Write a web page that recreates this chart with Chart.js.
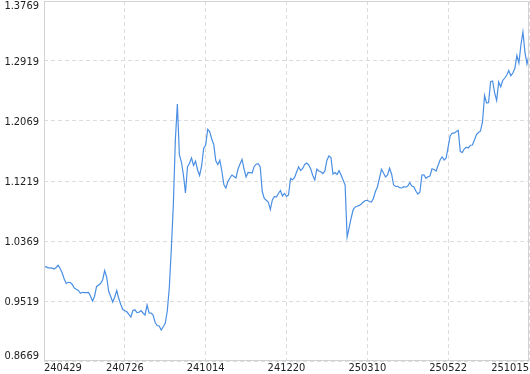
<!DOCTYPE html>
<html>
<head>
<meta charset="utf-8">
<script src="https://cdn.jsdelivr.net/npm/chart.js@4"></script>
<style>
  html, body { margin: 0; padding: 0; background: #fff; }
  #wrap { width: 530px; height: 374px; position: relative; }
</style>
</head>
<body>
<div id="wrap"><canvas id="c" width="530" height="374"></canvas></div>
<script>
// Tick labels on the x axis (every 40th sample)
const xTickLabels = ['240429', '240726', '241014', '241220', '250310', '250522', '251015'];
const xTickEvery = 40;
// Y-axis tick values
const yTicks = [0.8669, 0.9519, 1.0369, 1.1219, 1.2069, 1.2919, 1.3769];
// Series values
const values = [
  0.9996, 1.0005, 0.9989, 0.9988, 0.9984, 0.9972, 0.9994, 1.0025, 0.9979, 0.9916,
  0.9831, 0.9767, 0.9784, 0.9781, 0.9753, 0.9703, 0.9685, 0.9668, 0.9628, 0.9642,
  0.9637, 0.9639, 0.9641, 0.9590, 0.9519, 0.9583, 0.9722, 0.9746, 0.9767, 0.9817,
  0.9951, 0.9859, 0.9656, 0.9583, 0.9505, 0.9576, 0.9668, 0.9554, 0.9469, 0.9399,
  0.9382, 0.9366, 0.9328, 0.9292, 0.9384, 0.9394, 0.9356, 0.9360, 0.9384, 0.9349,
  0.9321, 0.9462, 0.9349, 0.9347, 0.9321, 0.9214, 0.9172, 0.9165, 0.9108, 0.9155,
  0.9203, 0.9377, 0.9703, 1.0256, 1.0879, 1.1800, 1.2310, 1.1587, 1.1488, 1.1304,
  1.1049, 1.1417, 1.1470, 1.1545, 1.1439, 1.1502, 1.1375, 1.1297, 1.1432, 1.1679,
  1.1729, 1.1949, 1.1918, 1.1814, 1.1736, 1.1510, 1.1450, 1.1512, 1.1361, 1.1170,
  1.1120, 1.1212, 1.1262, 1.1304, 1.1283, 1.1262, 1.1389, 1.1460, 1.1524, 1.1389,
  1.1276, 1.1340, 1.1338, 1.1332, 1.1425, 1.1456, 1.1464, 1.1417, 1.1070, 1.0971,
  1.0947, 1.0922, 1.0815, 1.0950, 1.1000, 1.0992, 1.1042, 1.1085, 1.1007, 1.1042,
  1.1002, 1.1021, 1.1255, 1.1236, 1.1269, 1.1347, 1.1420, 1.1368, 1.1396, 1.1453,
  1.1474, 1.1446, 1.1389, 1.1297, 1.1233, 1.1386, 1.1361, 1.1351, 1.1325, 1.1361,
  1.1514, 1.1573, 1.1552, 1.1318, 1.1340, 1.1311, 1.1365, 1.1304, 1.1233, 1.1162,
  1.0426, 1.0560, 1.0695, 1.0815, 1.0851, 1.0861, 1.0873, 1.0893, 1.0922, 1.0943,
  1.0945, 1.0929, 1.0922, 1.0971, 1.1070, 1.1134, 1.1259, 1.1382, 1.1332, 1.1276,
  1.1304, 1.1399, 1.1318, 1.1162, 1.1141, 1.1143, 1.1124, 1.1120, 1.1138, 1.1131,
  1.1148, 1.1195, 1.1148, 1.1138, 1.1077, 1.1035, 1.1060, 1.1304, 1.1307, 1.1257,
  1.1280, 1.1290, 1.1392, 1.1382, 1.1361, 1.1439, 1.1517, 1.1562, 1.1517, 1.1545,
  1.1701, 1.1857, 1.1899, 1.1897, 1.1920, 1.1935, 1.1637, 1.1623, 1.1675, 1.1697,
  1.1687, 1.1726, 1.1729, 1.1800, 1.1878, 1.1906, 1.1927, 1.2055, 1.2430, 1.2324,
  1.2331, 1.2626, 1.2636, 1.2466, 1.2359, 1.2622, 1.2555, 1.2643, 1.2678, 1.2721,
  1.2785, 1.2711, 1.2749, 1.2813, 1.2997, 1.2891, 1.3146, 1.3330, 1.3040, 1.2877, 1.3004
];

const points = values.map((v, i) => ({ x: i, y: v }));
const xTickValues = xTickLabels.map((_, k) => k * xTickEvery);

// Frame around the plot area
const frame = {
  id: 'frame',
  afterDatasetsDraw(chart) {
    const { ctx, chartArea: a } = chart;
    ctx.save();
    ctx.strokeStyle = '#d2d2d2';
    ctx.lineWidth = 1;
    ctx.strokeRect(Math.round(a.left) + 0.5, Math.round(a.top) + 0.5,
                   Math.round(a.right - a.left) - 1, Math.round(a.bottom - a.top) - 1);
    ctx.restore();
  }
};

// Keep first/last y labels inside the plot height
const innerYLabels = {
  id: 'innerYLabels',
  beforeDraw(chart) {
    const s = chart.scales.y;
    const items = s.getLabelItems();
    items.forEach((it, i) => {
      const t = it.options && it.options.translation;
      if (!t || it._shifted) return;
      let dy = 1;
      if (i === 0) dy = -4.5;
      else if (i === items.length - 1) dy = 5;
      t[1] += dy;
      it._shifted = true;
    });
  }
};

const font = { family: "'DejaVu Sans Condensed', 'DejaVu Sans', sans-serif", size: 11 };

new Chart(document.getElementById('c'), {
  type: 'line',
  data: {
    datasets: [{
      data: points,
      borderColor: '#4a8fe3',
      borderWidth: 1.2,
      pointRadius: 0,
      tension: 0,
      fill: false
    }]
  },
  options: {
    responsive: false,
    animation: false,
    devicePixelRatio: 1,
    layout: { padding: { top: 1, right: 1, left: 0, bottom: 0 } },
    plugins: { legend: { display: false }, tooltip: { enabled: false } },
    scales: {
      x: {
        type: 'linear',
        min: 0,
        max: values.length - 1,
        afterBuildTicks: s => { s.ticks = xTickValues.map(v => ({ value: v })); },
        afterFit: s => { s.height = 13; s.paddingLeft = 0; s.paddingRight = 0; },
        grid: { color: '#dcdcdc', lineWidth: 1, drawTicks: false },
        border: { display: false, dash: [4, 3] },
        ticks: {
          autoSkip: false,
          maxRotation: 0,
          align: 'inner',
          padding: 1,
          color: '#222',
          font: font,
          callback: (v) => xTickLabels[Math.round(v / xTickEvery)]
        }
      },
      y: {
        type: 'linear',
        min: yTicks[0],
        max: yTicks[yTicks.length - 1],
        afterBuildTicks: s => { s.ticks = yTicks.map(v => ({ value: v })); },
        afterFit: s => { s.width = 44; s.paddingTop = 0; s.paddingBottom = 0; },
        grid: { color: '#dcdcdc', lineWidth: 1, drawTicks: false },
        border: { display: false, dash: [4, 3] },
        ticks: {
          padding: 5,
          color: '#222',
          font: font,
          callback: (v) => Number(v).toFixed(4)
        }
      }
    }
  },
  plugins: [frame, innerYLabels]
});
</script>
</body>
</html>
